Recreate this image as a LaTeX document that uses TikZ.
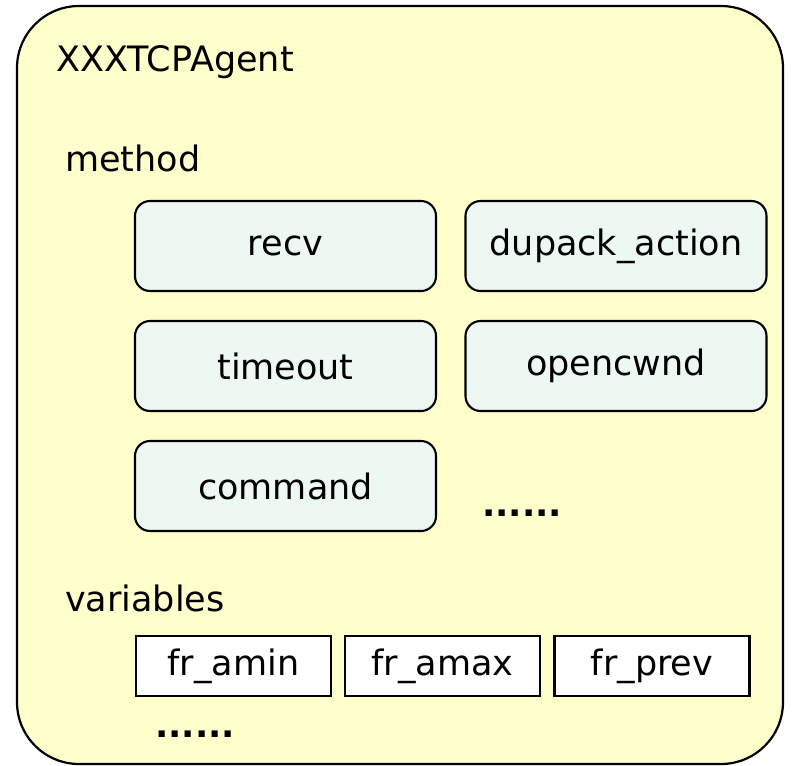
\documentclass[tikz,border=0pt]{standalone}
\usepackage{fontspec}
\setmainfont{DejaVu Sans}
\definecolor{outerfill}{HTML}{FFFFCC}
\definecolor{innerfill}{HTML}{EEF8F2}
\begin{document}
\begin{tikzpicture}[x=1pt,y=-1pt,
  every node/.style={font=\fontsize{35}{40}\selectfont},
  method/.style={draw=black,line width=2.1pt,fill=innerfill,rounded corners=15pt,minimum width=301pt,minimum height=90pt,inner sep=0pt},
  var/.style={draw=black,line width=2.1pt,fill=white,minimum width=195pt,minimum height=60pt,inner sep=0pt},
  lbl/.style={anchor=west,inner sep=0pt}]
\useasboundingbox (0,0) rectangle (796,766);
\draw[line width=2.2pt,fill=outerfill,rounded corners=62pt] (17,6) rectangle (783,764);
\node[lbl] (title) at (56,62) {XXXTCPAgent};
\node[lbl] (meth) at (65,158) {method};
\node[method] (recv) at (285.5,246) {recv};
\node[method] (dup) at (616,246) {dupack\_action};
\node[method] (tout) at (285.5,366) {timeout};
\node[method] (ocw) at (616,366) {opencwnd};
\node[method] (cmd) at (285.5,486) {command};
\node[inner sep=0pt,font=\fontsize{35}{40}\selectfont\bfseries] (dots1) at (522,513) {......};
\node[lbl] (vars) at (65,598) {variables};
\node[var] (amin) at (233.5,666) {fr\_amin};
\node[var] (amax) at (442.5,666) {fr\_amax};
\node[var] (prev) at (652,666) {fr\_prev};
\node[inner sep=0pt,font=\fontsize{35}{40}\selectfont\bfseries] (dots2) at (195,734) {......};
\end{tikzpicture}
\end{document}
